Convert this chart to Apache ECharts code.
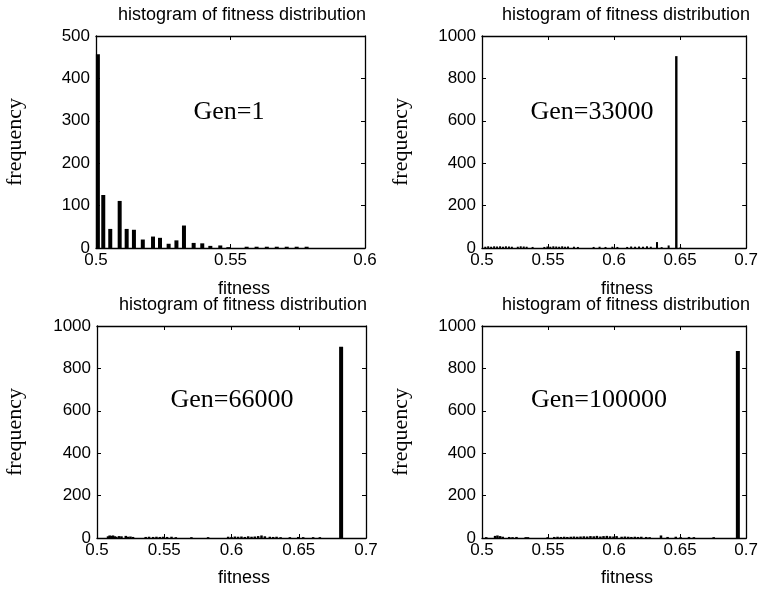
<!DOCTYPE html>
<html lang="en">
  <head>
    <meta charset="UTF-8" />
    <title>fitness histograms</title>
    <script src="https://cdn.jsdelivr.net/npm/echarts@6/dist/echarts.min.js"></script>
  </head>
  <body style="margin: 0; background: #fff">
    <div id="main" style="width: 761px; height: 592px"></div>

    <script type="text/javascript">
      // bars as [fitness, frequency]
      var gen1Bars = [
        [0.5007, 457], [0.5027, 125], [0.5053, 45], [0.5088, 111], [0.5114, 45],
        [0.5141, 43], [0.5174, 20], [0.5212, 27], [0.5238, 24], [0.527, 10],
        [0.5299, 18], [0.5327, 53], [0.5363, 12], [0.5395, 11], [0.5425, 5],
        [0.5462, 6], [0.5492, 2], [0.556, 3], [0.5597, 3], [0.5635, 3],
        [0.5672, 3], [0.5709, 3], [0.5746, 3], [0.5783, 3]
      ];
      var gen33000Small = [
        [0.5025, 6], [0.5047, 8], [0.5069, 6], [0.5092, 8], [0.5114, 7],
        [0.5137, 8], [0.5159, 6], [0.5181, 8], [0.5204, 7], [0.5226, 6],
        [0.5271, 6], [0.5293, 8], [0.5316, 7], [0.5338, 6], [0.5383, 5],
        [0.5472, 5], [0.5495, 7], [0.5517, 6], [0.554, 8], [0.5562, 7],
        [0.5584, 6], [0.5607, 8], [0.5629, 6], [0.5651, 7], [0.5696, 6],
        [0.5726, 5], [0.5845, 5], [0.589, 6], [0.5935, 5], [0.5987, 6],
        [0.6025, 5], [0.6099, 5], [0.6129, 7], [0.6159, 6], [0.6189, 7],
        [0.6219, 6], [0.6249, 8], [0.6278, 6], [0.6325, 28], [0.636, 4],
        [0.6413, 12], [0.6502, 3]
      ];
      var gen33000Peak = [[0.6471, 905]];
      var gen66000Small = [
        [0.5082, 8], [0.5094, 12], [0.5107, 10], [0.5119, 12], [0.5132, 8],
        [0.5144, 6], [0.5164, 9], [0.5182, 8], [0.5214, 10], [0.5231, 6],
        [0.5249, 7], [0.5268, 5], [0.5362, 5], [0.5387, 6], [0.5417, 5],
        [0.5442, 6], [0.5467, 5], [0.5491, 6], [0.5521, 5], [0.5554, 6],
        [0.5586, 4], [0.5702, 4], [0.5826, 4], [0.5975, 6], [0.6, 5],
        [0.6025, 7], [0.6049, 6], [0.6074, 7], [0.6099, 5], [0.6124, 8],
        [0.6149, 6], [0.6173, 7], [0.6198, 9], [0.6223, 12], [0.6248, 8],
        [0.6285, 6], [0.631, 5], [0.6335, 6], [0.6365, 4], [0.6434, 4],
        [0.6496, 5], [0.6533, 4], [0.6607, 4], [0.6657, 4]
      ];
      var gen66000Peak = [[0.6815, 902]];
      var gen100000Small = [
        [0.5032, 4], [0.5099, 10], [0.5117, 12], [0.5137, 9], [0.5157, 6],
        [0.5206, 5], [0.5231, 4], [0.5261, 5], [0.5331, 4], [0.5348, 4],
        [0.5497, 4], [0.5547, 5], [0.5572, 6], [0.5597, 5], [0.5622, 6],
        [0.5646, 5], [0.5672, 6], [0.5696, 7], [0.5721, 6], [0.5746, 7],
        [0.5771, 8], [0.5796, 7], [0.5821, 9], [0.5846, 8], [0.587, 10],
        [0.5896, 7], [0.592, 9], [0.5945, 10], [0.597, 8], [0.5995, 7],
        [0.6019, 9], [0.6057, 6], [0.6082, 7], [0.6107, 6], [0.6131, 5],
        [0.6157, 6], [0.6181, 5], [0.6206, 6], [0.6243, 5], [0.6269, 4],
        [0.6355, 12], [0.6405, 5], [0.6467, 6], [0.6504, 4], [0.6567, 5],
        [0.6604, 4], [0.6754, 4]
      ];
      var gen100000Peak = [[0.6937, 882]];

      var genLabels = ["Gen=1", "Gen=33000", "Gen=66000", "Gen=100000"];
      var xMaxes = [0.6, 0.7, 0.7, 0.7];
      var yMaxes = [500, 1000, 1000, 1000];
      var yIntervals = [100, 200, 200, 200];

      var sans = "Liberation Sans";
      var serif = "Liberation Serif";

      var myChart = echarts.init(document.getElementById("main"));

      var grids = [
        { left: 96, top: 36, width: 269, height: 212 },
        { left: 482, top: 36, width: 269, height: 212 },
        { left: 97, top: 326, width: 269, height: 212 },
        { left: 482, top: 326, width: 269, height: 212 }
      ];

      function axisBase(show) {
        return {
          axisLine: { show: true, onZero: false, lineStyle: { color: "#000", width: 1.3 } },
          axisTick: { show: true, inside: true, length: 4, lineStyle: { color: "#000" } },
          axisLabel: {
            show: show, color: "#000", fontSize: 17, fontFamily: sans,
            formatter: function (v) { return String(v); }
          },
          splitLine: { show: false }
        };
      }

      var xAxes = [];
      var yAxes = [];
      for (var i = 0; i < 4; i++) {
        var xb = axisBase(true);
        xb.type = "value"; xb.gridIndex = i; xb.position = "bottom";
        xb.min = 0.5; xb.max = xMaxes[i]; xb.interval = 0.05;
        xb.axisLabel.margin = 4;
        xAxes.push(xb);
        var xt = axisBase(false);
        xt.type = "value"; xt.gridIndex = i; xt.position = "top";
        xt.min = 0.5; xt.max = xMaxes[i]; xt.interval = 0.05;
        xAxes.push(xt);
        var yl = axisBase(true);
        yl.type = "value"; yl.gridIndex = i; yl.position = "left";
        yl.min = 0; yl.max = yMaxes[i]; yl.interval = yIntervals[i];
        yl.axisLabel.margin = 6;
        yAxes.push(yl);
        var yr = axisBase(false);
        yr.type = "value"; yr.gridIndex = i; yr.position = "right";
        yr.min = 0; yr.max = yMaxes[i]; yr.interval = yIntervals[i];
        yAxes.push(yr);
      }

      function bars(data, grid, top, width) {
        return {
          type: "bar",
          xAxisIndex: grid * 2 + (top ? 1 : 0),
          yAxisIndex: grid * 2,
          barWidth: width,
          itemStyle: { color: "#000" },
          silent: true,
          data: data
        };
      }

      var series = [
        bars(gen1Bars, 0, false, 4),
        bars(gen33000Small, 1, false, 2),
        bars(gen33000Peak, 1, true, 2.4),
        bars(gen66000Small, 2, false, 2.5),
        bars(gen66000Peak, 2, true, 4),
        bars(gen100000Small, 3, false, 2.5),
        bars(gen100000Peak, 3, true, 4)
      ];

      // texts
      var texts = [];
      function txt(s, x, y, font, rot) {
        texts.push({
          type: "text", x: x, y: y, rotation: rot || 0, silent: true,
          style: { text: s, font: font, fill: "#000", textAlign: "center", textVerticalAlign: "middle" }
        });
      }
      var titleX = [242, 626, 243, 626];
      var titleY = [15, 15, 305, 305];
      var fitX = [244, 627, 244, 627];
      var fitY = [289, 289, 578, 578];
      var freqX = [15, 401, 15, 401];
      var freqY = [142, 142, 432, 432];
      var genX = [229, 592, 232, 599];
      var genY = [112, 112, 400, 400];
      for (var k = 0; k < 4; k++) {
        txt("histogram of fitness distribution", titleX[k], titleY[k], "18px " + sans);
        txt("fitness", fitX[k], fitY[k], "18px " + sans);
        txt("frequency", freqX[k], freqY[k], "22px " + serif, Math.PI / 2);
        txt(genLabels[k], genX[k], genY[k], "26px " + serif);
      }

      var option = {
        backgroundColor: "#fff",
        animation: false,
        grid: grids,
        xAxis: xAxes,
        yAxis: yAxes,
        series: series,
        graphic: texts
      };

      myChart.setOption(option);
    </script>
  </body>
</html>
